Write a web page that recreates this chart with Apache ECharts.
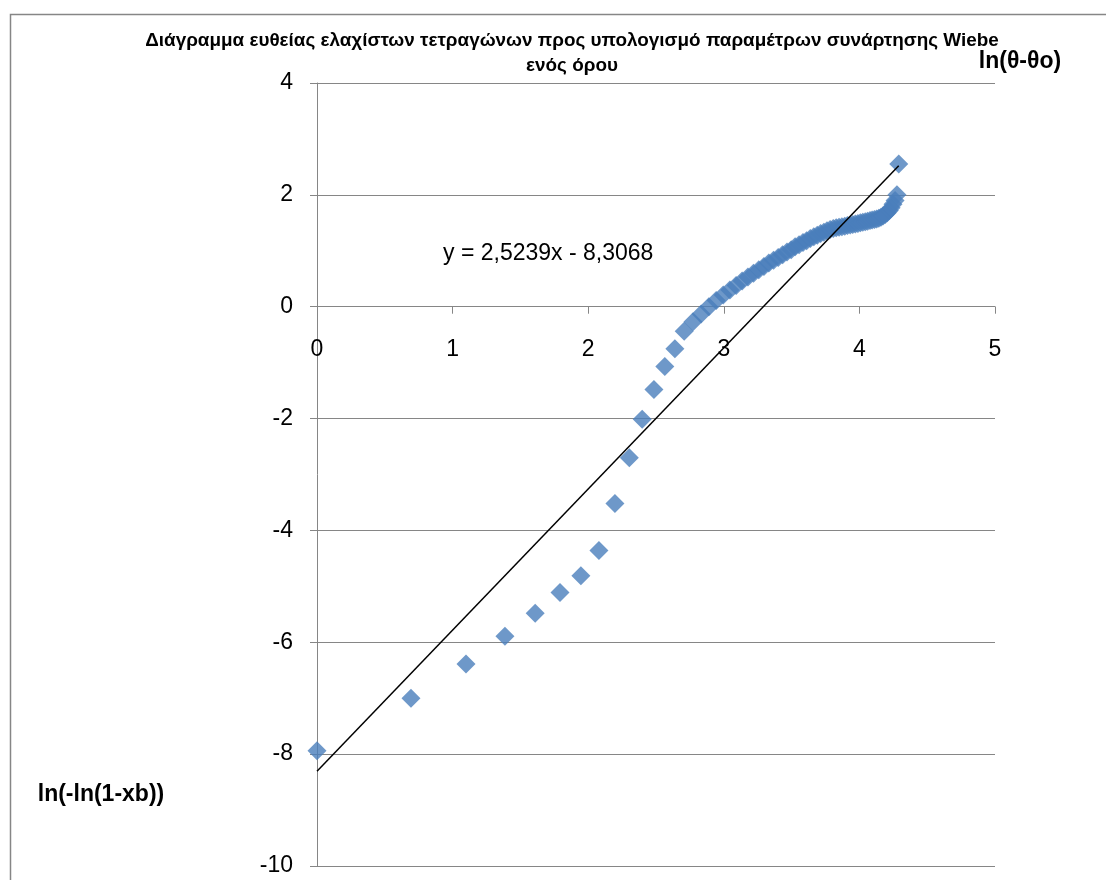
<!DOCTYPE html>
<html>
<head>
<meta charset="utf-8">
<script src="https://cdn.jsdelivr.net/npm/echarts@6/dist/echarts.min.js"></script>
<style>
html,body{margin:0;padding:0;background:#fff;}
#chart{width:1106px;height:880px;}
</style>
</head>
<body>
<div id="chart"></div>
<script>
// ln(θ-θo) values
const xValues = [0, 0.693, 1.099, 1.386, 1.609, 1.792, 1.946, 2.079, 2.197, 2.303,
  2.398, 2.485, 2.565, 2.639, 2.708, 2.773, 2.833, 2.890, 2.944, 2.996,
  3.045, 3.091, 3.135, 3.178, 3.219, 3.258, 3.296, 3.332, 3.367, 3.401,
  3.434, 3.466, 3.497, 3.526, 3.555, 3.584, 3.611, 3.638, 3.664, 3.689,
  3.714, 3.738, 3.761, 3.784, 3.807, 3.829, 3.850, 3.871, 3.892, 3.912,
  3.932, 3.951, 3.970, 3.989, 4.007, 4.025, 4.043, 4.060, 4.078, 4.094,
  4.111, 4.127, 4.143, 4.159, 4.174, 4.190, 4.205, 4.220, 4.234, 4.248,
  4.263, 4.277, 4.290];
// ln(-ln(1-xb)) values
const yValues = [-7.94, -7.00, -6.39, -5.89, -5.48, -5.11, -4.81, -4.36, -3.52, -2.70,
  -2.01, -1.48, -1.07, -0.75, -0.44, -0.27, -0.13, 0.00, 0.11, 0.21,
  0.30, 0.38, 0.46, 0.53, 0.60, 0.66, 0.72, 0.78, 0.83, 0.88,
  0.93, 0.98, 1.02, 1.07, 1.11, 1.15, 1.18, 1.22, 1.25, 1.28,
  1.31, 1.33, 1.36, 1.38, 1.40, 1.41, 1.42, 1.43, 1.44, 1.45,
  1.46, 1.47, 1.48, 1.49, 1.50, 1.51, 1.52, 1.53, 1.54, 1.55,
  1.56, 1.57, 1.58, 1.60, 1.62, 1.65, 1.68, 1.72, 1.77, 1.83,
  1.90, 2.00, 2.55];
// trendline y = 2,5239x - 8,3068
const trendSlope = 2.5239;
const trendIntercept = -8.3068;
const xTicks = [0, 1, 2, 3, 4, 5];
const yTicks = [-10, -8, -6, -4, -2, 0, 2, 4];

const titleLines = ['Διάγραμμα ευθείας ελαχίστων τετραγώνων προς υπολογισμό παραμέτρων συνάρτησης Wiebe', 'ενός όρου'];
const xName = 'ln(θ-θo)';
const yName = 'ln(-ln(1-xb))';
const eqText = 'y = 2,5239x - 8,3068';

const points = xValues.map((x, i) => [x, yValues[i]]);
const xEnd = Math.max.apply(null, xValues);
const trend = [[0, trendIntercept], [xEnd, trendSlope * xEnd + trendIntercept]];

const gridTop = 83, gridHeight = 783;
const yMin = yTicks[0], yMax = yTicks[yTicks.length - 1];
// move the x axis up so it crosses the y axis at 0
const xAxisOffset = -gridHeight * (0 - yMin) / (yMax - yMin);

const chart = echarts.init(document.getElementById('chart'), null, {renderer: 'canvas'});
const gray = '#868686';
const font = 'Liberation Sans';
chart.setOption({
  animation: false,
  backgroundColor: '#fff',
  grid: {left: 317, top: gridTop, width: 678, height: gridHeight, containLabel: false, outerBoundsMode: 'none'},
  xAxis: {
    type: 'value', min: xTicks[0], max: xTicks[xTicks.length - 1], interval: 1,
    position: 'bottom', offset: xAxisOffset,
    axisLine: {show: true, onZero: false, lineStyle: {color: gray, width: 1}},
    axisTick: {show: true, inside: false, length: 7, lineStyle: {color: gray}},
    axisLabel: {show: true, margin: 31, color: '#000', fontSize: 23, fontFamily: font},
    splitLine: {show: false}
  },
  yAxis: {
    type: 'value', min: yMin, max: yMax, interval: 2,
    axisLine: {show: true, onZero: false, lineStyle: {color: gray, width: 1}},
    axisTick: {show: true, length: 7, lineStyle: {color: gray}},
    axisLabel: {show: true, margin: 24, color: '#000', fontSize: 23, fontFamily: font},
    splitLine: {show: true, lineStyle: {color: gray, width: 1}}
  },
  series: [
    {
      type: 'scatter', data: points, symbol: 'diamond', symbolSize: 19,
      itemStyle: {color: '#4A7EBB'}, z: 2
    },
    {
      type: 'line', data: trend, symbol: 'none', showSymbol: false,
      lineStyle: {color: '#000', width: 1.5}, z: 3, silent: true
    }
  ],
  graphic: [
    {type: 'rect', left: 8, top: 12, shape: {width: 1120, height: 900}, style: {fill: 'none', stroke: gray, lineWidth: 1.5}, silent: true, z: 0},
    {type: 'text', x: 572, y: 41, style: {text: titleLines[0], font: 'bold 18.9px "Liberation Sans"', fill: '#000', align: 'center', verticalAlign: 'middle'}},
    {type: 'text', x: 572, y: 66, style: {text: titleLines[1], font: 'bold 18.9px "Liberation Sans"', fill: '#000', align: 'center', verticalAlign: 'middle'}},
    {type: 'text', x: 1020, y: 62, style: {text: xName, font: 'bold 23px "Liberation Sans"', fill: '#000', align: 'center', verticalAlign: 'middle'}},
    {type: 'text', x: 101, y: 795, style: {text: yName, font: 'bold 23px "Liberation Sans"', fill: '#000', align: 'center', verticalAlign: 'middle'}},
    {type: 'text', x: 443, y: 254, style: {text: eqText, font: '23px "Liberation Sans"', fill: '#000', align: 'left', verticalAlign: 'middle'}}
  ]
});
</script>
</body>
</html>
